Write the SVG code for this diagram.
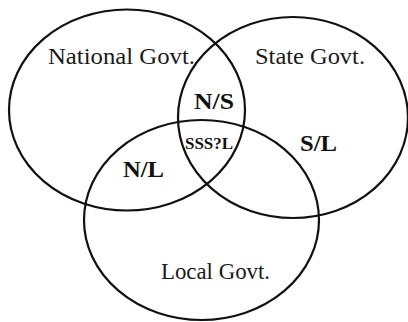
<svg xmlns="http://www.w3.org/2000/svg" width="408" height="322" viewBox="0 0 408 322">
  <style>
    .set { fill: none; stroke: #111; stroke-width: 2.2; }
    text { font-family: 'Liberation Serif', 'Times New Roman', serif; }
    .name { font-size: 24px; fill: #1a1a1a; }
    .zone { font-weight: bold; font-size: 23px; fill: #111; }
    .core { font-weight: bold; font-size: 16px; fill: #111; }
  </style>
  <rect width="408" height="322" fill="#fff"/>
  <g id="national">
    <ellipse class="set" cx="127" cy="110" rx="118" ry="100.5"/>
    <text class="name" x="48" y="64" textLength="147" lengthAdjust="spacingAndGlyphs">National Govt.</text>
  </g>
  <g id="state">
    <ellipse class="set" cx="293" cy="117.5" rx="115" ry="100.5"/>
    <text class="name" x="255" y="64" textLength="110" lengthAdjust="spacingAndGlyphs">State Govt.</text>
  </g>
  <g id="local">
    <ellipse class="set" cx="201.5" cy="220" rx="117.5" ry="100"/>
    <text class="name" x="161" y="279" textLength="109" lengthAdjust="spacingAndGlyphs">Local Govt.</text>
  </g>
  <!-- labels for the overlapping regions -->
  <g id="overlaps">
    <text class="zone" x="194" y="108.5" textLength="40" lengthAdjust="spacingAndGlyphs">N/S</text>
    <text class="zone" x="123" y="176.5" textLength="41" lengthAdjust="spacingAndGlyphs">N/L</text>
    <text class="zone" x="300" y="151" textLength="37" lengthAdjust="spacingAndGlyphs">S/L</text>
    <text class="core" x="185" y="149" textLength="48" lengthAdjust="spacingAndGlyphs">SSS?L</text>
  </g>
</svg>
